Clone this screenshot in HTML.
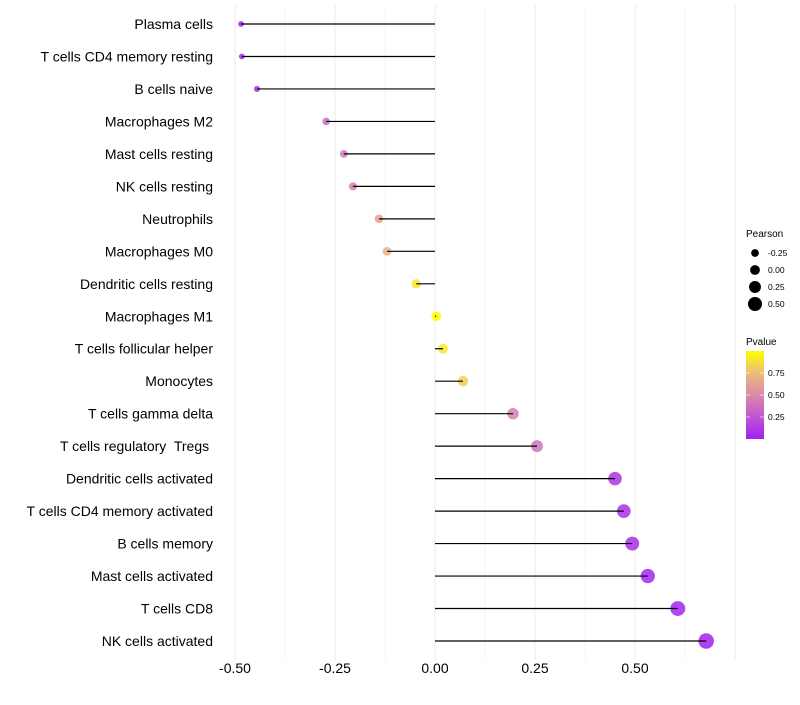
<!DOCTYPE html>
<html><head><meta charset="utf-8"><style>
body{margin:0;background:#fff;font-family:"Liberation Sans",sans-serif}
text{white-space:pre}
</style></head><body>
<svg id="c" width="800" height="700" xmlns="http://www.w3.org/2000/svg" font-family="Liberation Sans, sans-serif"></svg>
<script>
const categories=["Plasma cells","T cells CD4 memory resting","B cells naive","Macrophages M2","Mast cells resting","NK cells resting","Neutrophils","Macrophages M0","Dendritic cells resting","Macrophages M1","T cells follicular helper","Monocytes","T cells gamma delta","T cells regulatory  Tregs ","Dendritic cells activated","T cells CD4 memory activated","B cells memory","Mast cells activated","T cells CD8","NK cells activated"];
const pearson=[-0.485,-0.483,-0.445,-0.272,-0.228,-0.205,-0.14,-0.12,-0.047,0.003,0.02,0.07,0.195,0.255,0.45,0.472,0.493,0.532,0.607,0.678];
const pvalues=[0.02,0.02,0.05,0.35,0.42,0.45,0.62,0.7,0.9,1.0,0.92,0.82,0.45,0.4,0.1,0.08,0.06,0.04,0.02,0.01];
const xTicks=[-0.5,-0.25,0,0.25,0.5];
const xTickLabels=["-0.50","-0.25","0.00","0.25","0.50"];
const sizeLegend=[-0.25,0,0.25,0.5];
const sizeLegendLabels=["-0.25","0.00","0.25","0.50"];
const colorTicks=[0.25,0.5,0.75];
const colorTickLabels=["0.25","0.50","0.75"];

const svg=document.getElementById('c');
const NS="http://www.w3.org/2000/svg";
function mk(t,a,p){const e=document.createElementNS(NS,t);for(const k in a)e.setAttribute(k,a[k]);(p||svg).appendChild(e);return e;}
const X=v=>435+400*v;
const Y=i=>24+i*(617/19);
const R=v=>4.9+4.2*v;
const stops=[[0,[160,32,240]],[0.25,[192,85,210]],[0.5,[217,138,168]],[0.75,[239,187,120]],[1,[255,255,0]]];
function col(p){for(let i=1;i<stops.length;i++){if(p<=stops[i][0]){const a=stops[i-1],b=stops[i],t=(p-a[0])/(b[0]-a[0]);return 'rgb('+a[1].map((c,j)=>Math.round(c+(b[1][j]-c)*t)).join(',')+')';}}return 'rgb(255,255,0)';}
const grid=mk('g',{});
for(let v=-0.5;v<=0.75;v+=0.125){mk('line',{x1:X(v),x2:X(v),y1:5,y2:660,stroke:'#ebebeb','stroke-width':Math.abs((v*4)%1)<1e-6?1:0.5},grid);}
xTicks.forEach((v,i)=>{const t=mk('text',{x:X(v),y:673,'text-anchor':'middle','font-size':14,fill:'#000'});t.textContent=xTickLabels[i];
});
categories.forEach((c,i)=>{
const t=mk('text',{x:213,y:Y(i)+5,'text-anchor':'end','font-size':14,fill:'#000'});t.textContent=c;

const d=mk('circle',{cx:X(pearson[i]),cy:Y(i),r:R(pearson[i]),fill:col(pvalues[i]),'fill-opacity':0.85});

const l=mk('line',{x1:X(0),x2:X(pearson[i]),y1:Y(i),y2:Y(i),stroke:'#000','stroke-width':1.2});

});
const lg=mk('g',{});
const lt=mk('text',{x:746,y:237,'font-size':10},lg);lt.textContent='Pearson';
sizeLegend.forEach((v,i)=>{const y=253+i*17;mk('circle',{cx:755,cy:y,r:R(v),fill:'#000'},lg);
const t=mk('text',{x:768,y:y+3,'font-size':8.5},lg);t.textContent=sizeLegendLabels[i];});
const cg=mk('g',{});
const ct=mk('text',{x:746,y:345,'font-size':10},cg);ct.textContent='Pvalue';
const defs=mk('defs',{});const gr=mk('linearGradient',{id:'pg',x1:0,y1:1,x2:0,y2:0},defs);
stops.forEach(s=>mk('stop',{offset:s[0],'stop-color':col(s[0])},gr));
mk('rect',{x:746,y:351,width:18,height:88,fill:'url(#pg)'},cg);
colorTicks.forEach((v,i)=>{const y=439-88*v;mk('line',{x1:746,x2:750,y1:y,y2:y,stroke:'#fff','stroke-opacity':0.6},cg);mk('line',{x1:760,x2:764,y1:y,y2:y,stroke:'#fff','stroke-opacity':0.6},cg);
const t=mk('text',{x:768,y:y+3,'font-size':8.5},cg);t.textContent=colorTickLabels[i];});
</script>
</body></html>
